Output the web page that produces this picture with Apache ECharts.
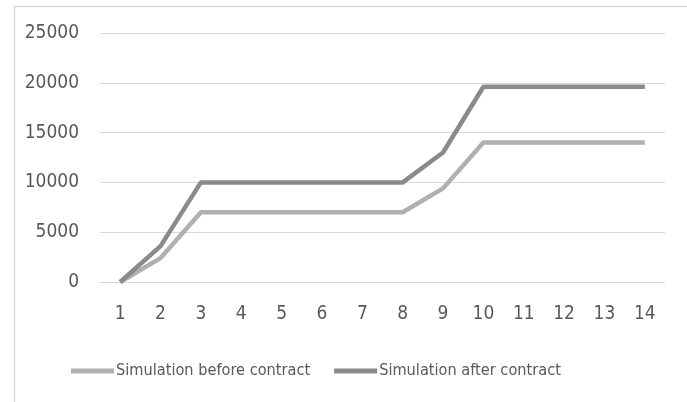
<!DOCTYPE html>
<html>
<head>
<meta charset="utf-8">
<script src="https://cdn.jsdelivr.net/npm/echarts@6/dist/echarts.min.js"></script>
<style>html,body{margin:0;padding:0;background:#fff;}#c{width:687px;height:402px;}</style>
</head>
<body>
<div id="c"></div>
<script>
const categories = ['1','2','3','4','5','6','7','8','9','10','11','12','13','14'];
const beforeContract = [0, 2400, 7000, 7000, 7000, 7000, 7000, 7000, 9400, 14000, 14000, 14000, 14000, 14000];
const afterContract = [0, 3600, 10000, 10000, 10000, 10000, 10000, 10000, 13000, 19600, 19600, 19600, 19600, 19600];
const seriesNames = ['Simulation before contract', 'Simulation after contract'];

const FONT = '"Liberation Sans Narrow", "DejaVu Sans Condensed", sans-serif';
const chart = echarts.init(document.getElementById('c'), null, {renderer: 'canvas'});
chart.setOption({
  animation: false,
  backgroundColor: '#fff',
  graphic: [{
    type: 'rect', left: 12, top: 4, silent: true,
    shape: {width: 700, height: 420},
    style: {fill: 'none', stroke: '#d9d9d9', lineWidth: 1.5}
  }],
  grid: {left: 100, right: 22, top: 33, bottom: 120, containLabel: false},
  legend: {
    data: seriesNames,
    bottom: 18,
    left: 66,
    icon: 'rect',
    itemWidth: 43,
    itemHeight: 5,
    itemGap: 24,
    textStyle: {fontFamily: FONT, fontSize: 16.2, color: '#595959', padding: [0, 0, 0, -3]}
  },
  xAxis: {
    type: 'category',
    data: categories,
    boundaryGap: true,
    axisLine: {show: true, lineStyle: {color: '#d9d9d9'}},
    axisTick: {show: false},
    axisLabel: {fontFamily: FONT, fontSize: 19, color: '#595959', margin: 23}
  },
  yAxis: {
    type: 'value',
    min: 0, max: 25000, interval: 5000,
    axisLine: {show: false},
    axisTick: {show: false},
    splitLine: {lineStyle: {color: '#d9d9d9', width: 1}},
    axisLabel: {fontFamily: FONT, fontSize: 19, color: '#595959', margin: 21,
      formatter: function (v) { return String(v); }}
  },
  series: [
    {name: seriesNames[0], type: 'line', data: beforeContract, symbol: 'none',
     lineStyle: {color: '#b0b0b0', width: 4.5}, itemStyle: {color: '#b0b0b0'}},
    {name: seriesNames[1], type: 'line', data: afterContract, symbol: 'none',
     lineStyle: {color: '#8a8a8a', width: 4.5}, itemStyle: {color: '#8a8a8a'}}
  ]
});
</script>
</body>
</html>
